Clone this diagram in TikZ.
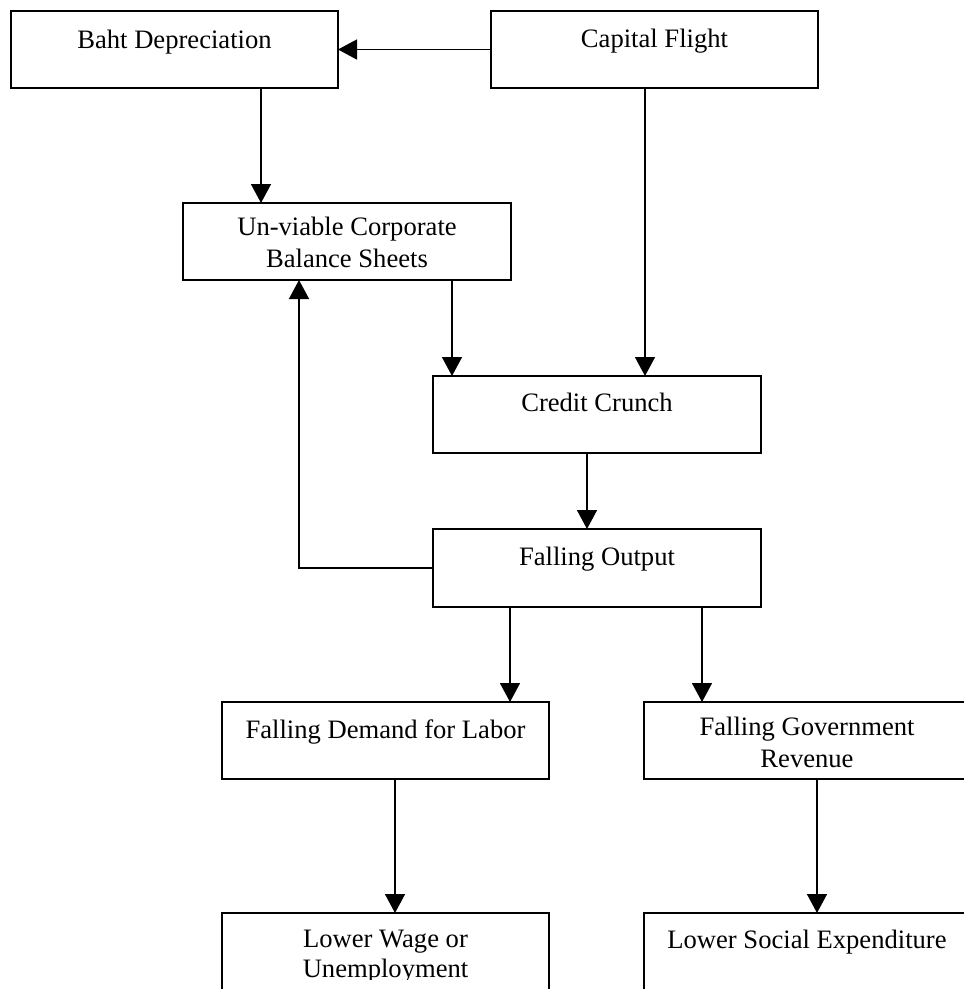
\documentclass[tikz,border=0pt]{standalone}
\usepackage{fontspec}
\setmainfont{Liberation Serif}
\usetikzlibrary{arrows.meta}
\begin{document}
\begin{tikzpicture}[x=1pt,y=-1pt,
  box/.style={draw=black, line width=1.5pt, fill=white, inner sep=0pt, outer sep=0pt},
  txt/.style={anchor=base, inner sep=0pt, font=\fontsize{26.6}{32}\selectfont},
  arr/.style={line width=1.5pt, -{Triangle[width=20pt,length=19pt]}},
  ln/.style={line width=1.5pt}]
\useasboundingbox (0,0) rectangle (964,989);
\clip (0,0) rectangle (964,989);
% boxes
\node[box, minimum width=327pt, minimum height=77pt] (baht) at (174.5,49.5) {};
\node[box, minimum width=327pt, minimum height=77pt] (cap) at (654.5,49.5) {};
\node[box, minimum width=328pt, minimum height=77pt] (unv) at (347,241.5) {};
\node[box, minimum width=328pt, minimum height=77pt] (cc) at (597,414.5) {};
\node[box, minimum width=328pt, minimum height=78pt] (fo) at (597,568) {};
\node[box, minimum width=327pt, minimum height=77pt] (fd) at (385.5,740.5) {};
\node[box, minimum width=326pt, minimum height=77pt] (gov) at (807,740.5) {};
\node[box, minimum width=327pt, minimum height=90pt] (lw) at (385.5,958) {};
\node[box, minimum width=326pt, minimum height=90pt] (ls) at (807,958) {};
% texts
\node[txt] (tbaht) at (174.5,48) {Baht Depreciation};
\node[txt] (tcap) at (654.5,47) {Capital Flight};
\node[txt] (tunv1) at (347,235) {Un-viable Corporate};
\node[txt] (tunv2) at (347,267) {Balance Sheets};
\node[txt] (tcc) at (597,411) {Credit Crunch};
\node[txt] (tfo) at (597,565) {Falling Output};
\node[txt] (tfd) at (385.5,738) {Falling Demand for Labor};
\node[txt] (tgov1) at (807,735) {Falling Government};
\node[txt] (tgov2) at (807,767) {Revenue};
\node[txt] (tlw1) at (385.5,947) {Lower Wage or};
\begin{scope}
\clip (0,0) rectangle (964,979);
\node[txt] (tlw2) at (385.5,977) {Unemployment};
\end{scope}
\node[txt] (tls) at (807,948) {Lower Social Expenditure};
% x positions of connectors
\coordinate (x261) at (261,0);
\coordinate (x299) at (299,0);
\coordinate (x452) at (452,0);
\coordinate (x645) at (645,0);
\coordinate (x587) at (587,0);
\coordinate (x510) at (510,0);
\coordinate (x702) at (702,0);
\coordinate (x395) at (395,0);
\coordinate (x817) at (817,0);
% connectors
\draw[arr] (cap.west) -- (baht.east);
\draw[arr] (baht.south -| x261) -- (unv.north -| x261);
\draw[arr] (unv.south -| x452) -- (cc.north -| x452);
\draw[arr] (cap.south -| x645) -- (cc.north -| x645);
\draw[arr] (cc.south -| x587) -- (fo.north -| x587);
\draw[arr] (fo.west) -- (fo.west -| x299) -- (unv.south -| x299);
\draw[arr] (fo.south -| x510) -- (fd.north -| x510);
\draw[arr] (fo.south -| x702) -- (gov.north -| x702);
\draw[arr] (fd.south -| x395) -- (lw.north -| x395);
\draw[arr] (gov.south -| x817) -- (ls.north -| x817);
\end{tikzpicture}
\end{document}
